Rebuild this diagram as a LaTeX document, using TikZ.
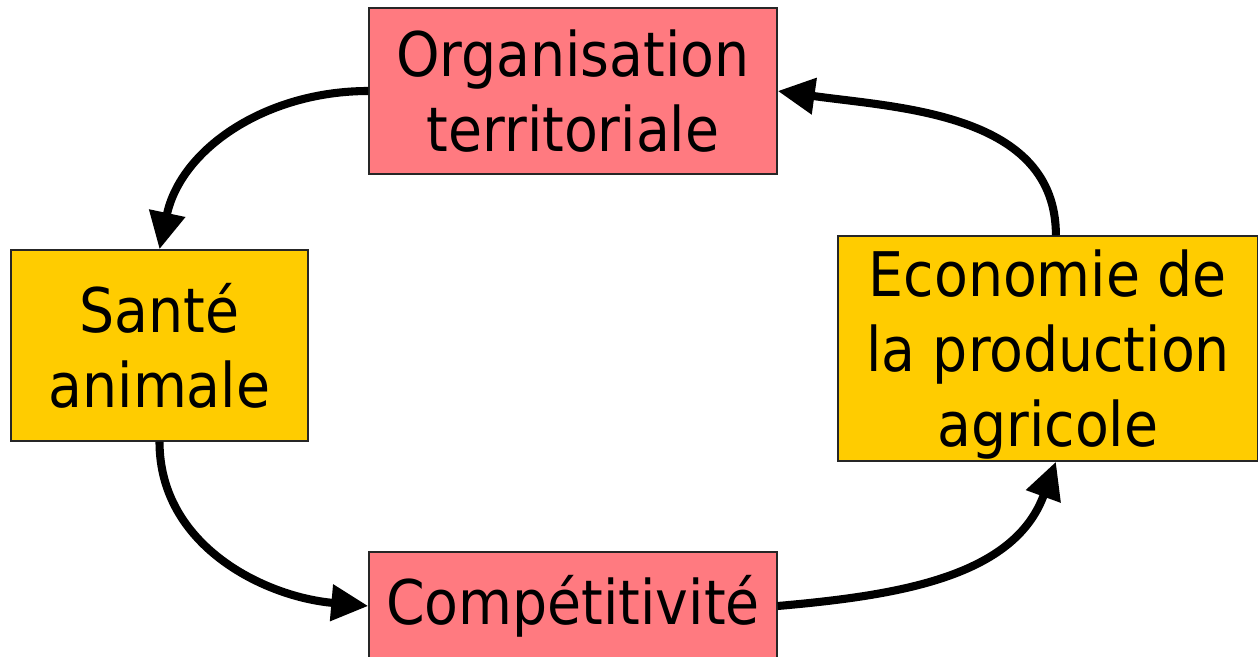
\documentclass[tikz,border=0pt]{standalone}
\usepackage{fontspec}
\setmainfont{DejaVu Sans Condensed}
\usetikzlibrary{arrows.meta}
\definecolor{rose}{HTML}{FF7A80}
\definecolor{jaune}{HTML}{FFCC00}
\tikzset{
  boite/.style={draw=black!85, line width=0.8pt, align=center, inner sep=0pt,
    font=\fontsize{35}{42.7}\selectfont},
  fleche/.style={line width=4.6pt, -{Triangle[length=0.74cm,width=0.7cm]}},
}
\begin{document}
\begin{tikzpicture}
  \useasboundingbox (0,0) rectangle (25.16,13.12);

  % les quatre cases
  \node[boite, fill=rose, minimum width=8.16cm, minimum height=3.32cm] (orga) at (11.46,11.30) {Organisation\\territoriale};
  \node[boite, fill=jaune, minimum width=5.94cm, minimum height=3.82cm] (sante) at (3.19,6.21) {Santé\\animale};
  \node[boite, fill=jaune, minimum width=8.4cm, minimum height=4.5cm, text depth=0pt] (econ) at (20.96,6.15) {Economie de\\la production\\agricole};
  \node[boite, fill=rose, minimum width=8.16cm, minimum height=2.16cm] (compet) at (11.46,1.0) {Compétitivité};

  % le cycle
  \draw[fleche] (orga.west) to[out=180,in=78] (sante.north);
  \draw[fleche] (sante.south) to[out=-90,in=175] (compet.west);
  \draw[fleche] (compet.east) to[out=5,in=-110] (econ.-86);
  \draw[fleche] (econ.86) to[out=90,in=-8] (orga.east);
\end{tikzpicture}
\end{document}
